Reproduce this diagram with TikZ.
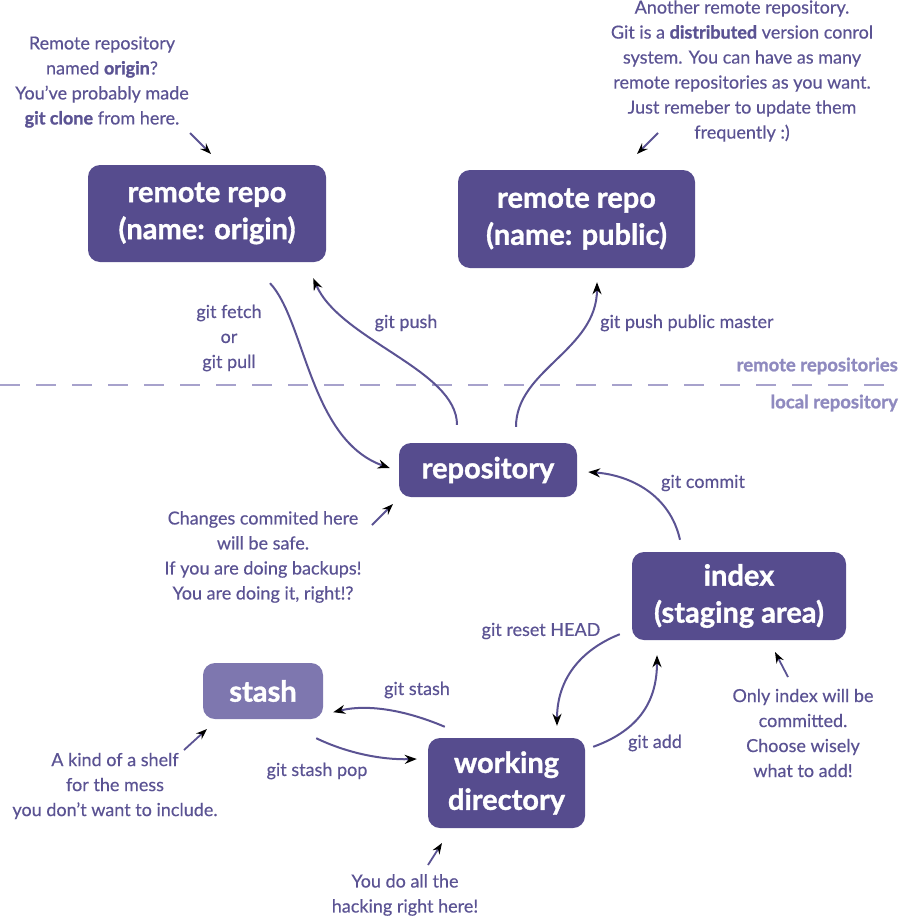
\documentclass[tikz,border=0pt]{standalone}
\usepackage{fontspec}
\setmainfont{Lato}[UprightFeatures={FakeBold=0.4},BoldFeatures={FakeBold=1.2}]
\usepackage{xcolor}
\definecolor{dnhop}{HTML}{564C8E}
\definecolor{dnstash}{HTML}{7E77AF}
\definecolor{dnchu}{HTML}{5B5393}
\definecolor{dnnhat}{HTML}{8F8ABF}
\definecolor{dnvach}{HTML}{A7A2CC}
\def\mauhop{dnhop}
\def\mauchu{dnchu}
\def\maunhat{dnnhat}
\usepackage{tikz}
\usetikzlibrary{arrows.meta}

\begin{document}
\begin{tikzpicture}[x=1pt,y=-1pt,
	hop/.style={fill=\mauhop,rounded corners=12pt,text=white,align=center,inner sep=0pt,font=\fontsize{29}{37}\selectfont\bfseries},
	ghichu/.style={text=\mauchu,align=center,font=\fontsize{18}{25}\selectfont},
	vung/.style={text=\maunhat,anchor=east,inner sep=0pt,font=\fontsize{18.5}{25}\selectfont\bfseries},
	muiten/.style={draw=\mauchu,line width=2pt,-{Stealth[black,length=12pt,width=9pt]}},
	chitay/.style={draw=\mauchu,line width=1.8pt,-{Stealth[black,length=11pt,width=8pt]}}]
		\useasboundingbox (0,0) rectangle (900,921);
		\draw[dnvach,line width=2pt,dash pattern=on 20pt off 16pt] (0,385) coordinate (vtrai) -- (890,385) coordinate (vphai);
		\path (898,366) node[vung] (remote) {remote repositories}
		(898,403) node[vung] (local) {local repository};
		
		\path (207,213.5) node[hop,minimum width=238pt,minimum height=97pt] (origin) {remote repo\\(name: origin)}
		(576.5,219) node[hop,minimum width=237pt,minimum height=98pt] (public) {remote repo\\(name: public)}
		(488,470) node[hop,minimum width=178pt,minimum height=54pt] (repo) {repository}
		(739,596) node[hop,minimum width=214pt,minimum height=88pt] (index) {index\\(staging area)}
		(506.5,783) node[hop,minimum width=157pt,minimum height=90pt] (work) {working\\directory}
		(263,691) node[hop,fill=dnstash,minimum width=120pt,minimum height=56pt] (stash) {stash};
		
		\draw[muiten] ([shift={(63,21)}]origin.south) .. controls +(35,37) and +(-80,-28) .. ([shift={(-9,-2)}]repo.west);
		\draw[muiten] ([shift={(-31,-18)}]repo.north) .. controls +(0,-55) and +(27,62) .. ([shift={(-13,16)}]origin.south east);
		\draw[muiten] ([shift={(28,-16)}]repo.north) .. controls +(0,-57) and +(0,68) .. ([shift={(20.5,14)}]public.south);
		\draw[muiten] ([shift={(-59,-12)}]index.north) .. controls +(-10,-45) and +(42,3) .. ([shift={(11,2)}]repo.east);
		\draw[muiten] ([shift={(-12,-6)}]index.south west) .. controls +(-40,16) and +(0,-46) .. ([shift={(50.5,-12)}]work.north);
		\draw[muiten] ([shift={(8,9)}]work.north east) .. controls +(47,-17) and +(0,45) .. ([shift={(-82,15)}]index.south);
		\draw[muiten] ([shift={(17,-11)}]work.north west) .. controls +(-35,-15) and +(37,-9) .. ([shift={(10,-7)}]stash.south east);
		\draw[muiten] ([shift={(-7,19)}]stash.south east) .. controls +(29,14) and +(-37,1) .. ([shift={(-11,-24)}]work.west);
		
		\path (229,338) node[ghichu] (fetch) {git fetch\\or\\git pull}
		(406,323) node[ghichu] (push) {git push}
		(600,323) node[ghichu,anchor=west,inner sep=0pt] (pushpublic) {git push public master}
		(703,483) node[ghichu] (commit) {git commit}
		(541,631) node[ghichu] (reset) {git reset HEAD}
		(655,743) node[ghichu] (add) {git add}
		(417,690) node[ghichu] (gitstash) {git stash}
		(317,771) node[ghichu] (pop) {git stash pop};
		
		\path (102,82) node[ghichu] (notorigin) {Remote repository\\named {\bfseries origin}?\\You've probably made\\{\bfseries git clone} from here.}
		(742,71) node[ghichu] (notpublic) {Another remote repository.\\Git is a {\bfseries distributed} version conrol\\system. You can have as many\\remote repositories as you want.\\Just remeber to update them\\frequently :)}
		(263,557) node[ghichu] (notrepo) {Changes commited here\\will be safe.\\If you are doing backups!\\You are doing it, right!?}
		(115,786) node[ghichu] (notstash) {A kind of a shelf\\for the mess\\you don't want to include.}
		(803,733) node[ghichu] (notindex) {Only index will be\\committed.\\Choose wisely\\what to add!}
		(405,895) node[ghichu] (notwork) {You do all the\\hacking right here!};
		
		\path (190,133) coordinate (a1) (211,154) coordinate (b1)
		(658,133) coordinate (a2) (637,154) coordinate (b2)
		(372,525) coordinate (a3) (393,504) coordinate (b3)
		(184,750) coordinate (a4) (207,729) coordinate (b4)
		(788,677) coordinate (a5) (775,652) coordinate (b5)
		(428,865) coordinate (a6) (442,843) coordinate (b6);
		\foreach \i in {1,...,6}
		\draw[chitay] (a\i) -- (b\i);
		
	\end{tikzpicture}
\end{document}
